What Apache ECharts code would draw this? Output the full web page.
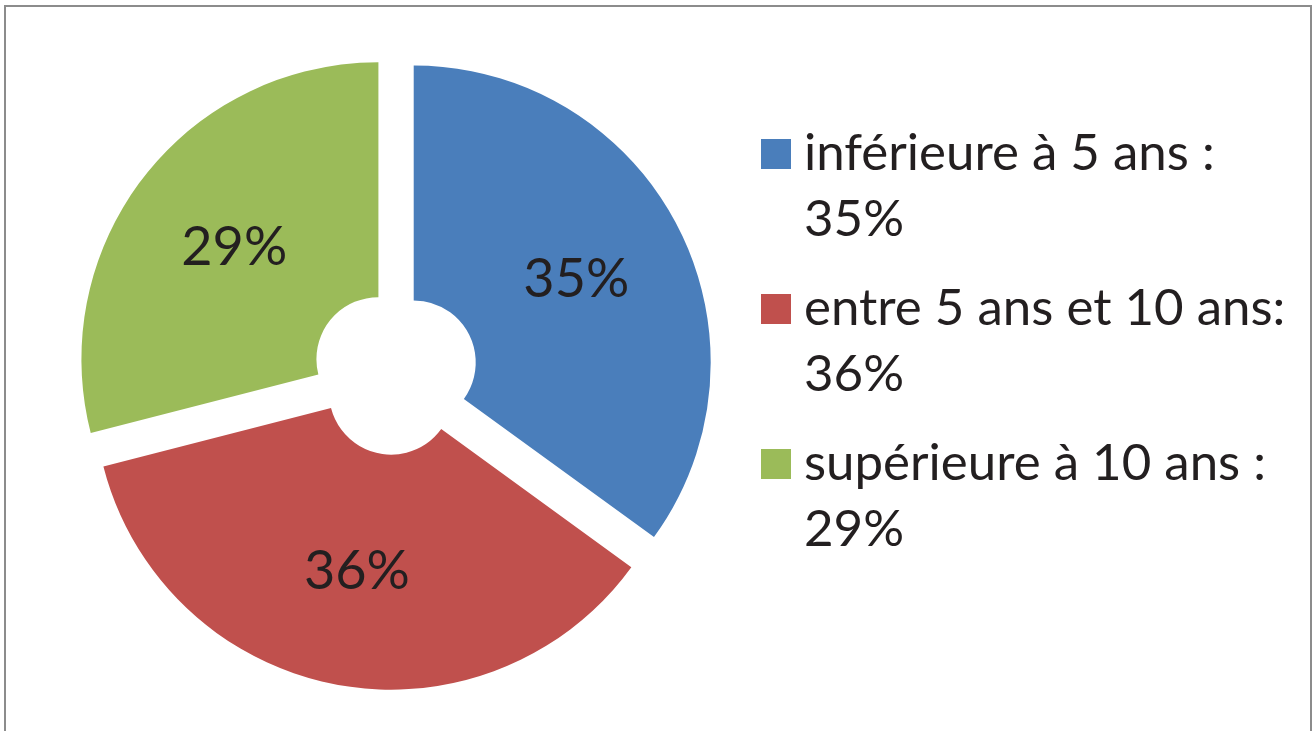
<!DOCTYPE html>
<html>
<head>
<meta charset="utf-8">
<script src="https://cdn.jsdelivr.net/npm/echarts@6/dist/echarts.min.js"></script>
<style>
  html, body { margin: 0; padding: 0; background: #fff; }
  #frame {
    position: absolute; left: 4px; top: 5px; width: 1304px; height: 760px;
    border: 2px solid #8c8c8c; box-sizing: content-box;
  }
  #chart { position: absolute; left: 0; top: 0; width: 1316px; height: 731px; }
</style>
</head>
<body>
<div id="frame"></div>
<div id="chart"></div>
<script>
// anciennete - repartition en %
const categories = ["inférieure à 5 ans :", "entre 5 ans et 10 ans:", "supérieure à 10 ans :"];
const values = [35, 36, 29];
const colors = ["#4a7ebb", "#c0504d", "#9bbb59"];

const fontName = "Lato";

const chart = echarts.init(document.getElementById("chart"));

const pieData = categories.map((name, i) => ({
  name: name,
  value: values[i],
  selected: true,
  itemStyle: { color: colors[i] },
}));

chart.setOption({
  animation: false,
  legend: {
    orient: "vertical",
    left: 761,
    top: 55,
    padding: 0,
    itemWidth: 30,
    itemHeight: 30,
    itemGap: -43,
    icon: "rect",
    selectedMode: false,
    data: categories,
    // ligne vide en tete : la 1re ligne de texte tombe au niveau du carre
    formatter: (name) => {
      const i = categories.indexOf(name);
      return "\n" + name + "\n" + values[i] + "%";
    },
    textStyle: {
      fontFamily: fontName,
      fontSize: 51,
      lineHeight: 66,
      color: "#231f20",
      padding: [0, 0, 0, 8],
    },
  },
  series: [
    {
      type: "pie",
      center: [395, 372],
      radius: [62, 297],
      startAngle: 90,
      clockwise: true,
      selectedMode: "multiple",
      selectedOffset: 21,
      emphasis: { disabled: true },
      label: {
        show: true,
        position: "inside",
        formatter: "{c}%",
        fontFamily: fontName,
        fontSize: 54,
        color: "#231f20",
      },
      labelLine: { show: false },
      data: pieData,
    },
  ],
});
</script>
</body>
</html>
